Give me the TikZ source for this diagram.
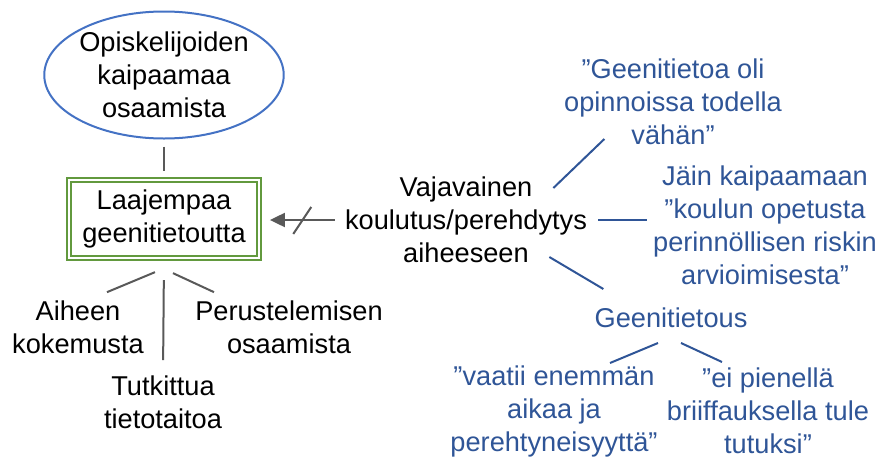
\documentclass[tikz,border=0pt]{standalone}
\usepackage{fontspec}
\setmainfont{Liberation Sans}
\usetikzlibrary{arrows.meta,shapes.geometric}
\definecolor{qblue}{HTML}{2F5597}
\definecolor{eblue}{HTML}{4472C4}
\definecolor{bgreen}{HTML}{62993E}
\definecolor{lgray}{HTML}{595959}
\tikzset{txt/.style={align=center,inner sep=0pt,font=\fontsize{13.6}{16.5}\selectfont},
 quo/.style={txt,text=qblue},
 ell/.style={txt,ellipse,draw=eblue,line width=1pt,minimum width=107.5pt,minimum height=63.5pt},
 box/.style={txt,draw=bgreen,double=white,double distance=1.1pt,line width=0.9pt,
 minimum width=95pt,minimum height=39.25pt},
 gl/.style={draw=lgray,line width=1pt},
 bl/.style={draw=qblue,line width=1pt},
 arr/.style={gl,-{Triangle[length=7.5pt,width=7pt]}}}

\begin{document}
\begin{tikzpicture}[x=0.5pt,y=-0.5pt]
\useasboundingbox (0,0) rectangle (882,461);
\node[ell] (e) at (164,75) {Opiskelijoiden\\kaipaamaa\\osaamista};
\node[box] (b) at (164,219) {Laajempaa\\geenitietoutta};
\node[txt] (a1) at (78,327) {Aiheen\\kokemusta};
\node[txt] (a2) at (289,327) {Perustelemisen\\osaamista};
\node[txt] (a3) at (163,402) {Tutkittua\\tietotaitoa};
\node[txt] (v) at (466,220) {Vajavainen\\koulutus/perehdytys\\aiheeseen};
\node[quo] (q1) at (673,102) {”Geenitietoa oli\\opinnoissa todella\\vähän”};
\node[quo] (q2) at (765,225) {Jäin kaipaamaan\\”koulun opetusta\\perinnöllisen riskin\\arvioimisesta”};
\node[quo] (g) at (671,318) {Geenitietous};
\node[quo] (q3) at (554,411) {”vaatii enemmän\\aikaa ja\\perehtyneisyyttä”};
\node[quo] (q4) at (768,411) {”ei pienellä\\briiffauksella tule\\tutuksi”};
% left tree
\draw[gl,shorten <=3.5pt,shorten >=4pt] (e.south) -- (b.north);
\draw[gl] (b.south) ++(-9,13) -- ++(-48,20);
\draw[gl] (b.south) ++(9,14) -- ++(41,19);
\draw[gl,shorten <=10.5pt,shorten >=7.5pt] (b.south) -- (a3.north);
\draw[arr,shorten <=5pt,shorten >=5pt] (v.west) -- coordinate[pos=0.5] (s) (v.west -| b.east);
\draw[gl] (s) ++(-9,14) -- ++(18,-27);
% quotes
\draw[bl] (v.east) ++(-34,-32) -- ++(51,-49);
\draw[bl,shorten <=5.5pt,shorten >=3pt] (v.east) -- (v.east -| q2.west);
\draw[bl] (v.east) ++(-38,37) -- ++(54,32);
\draw[bl] (g.center) ++(-13,25) -- ++(-48,20);
\draw[bl] (g.center) ++(10,25) -- ++(41,19);
\end{tikzpicture}
\end{document}
